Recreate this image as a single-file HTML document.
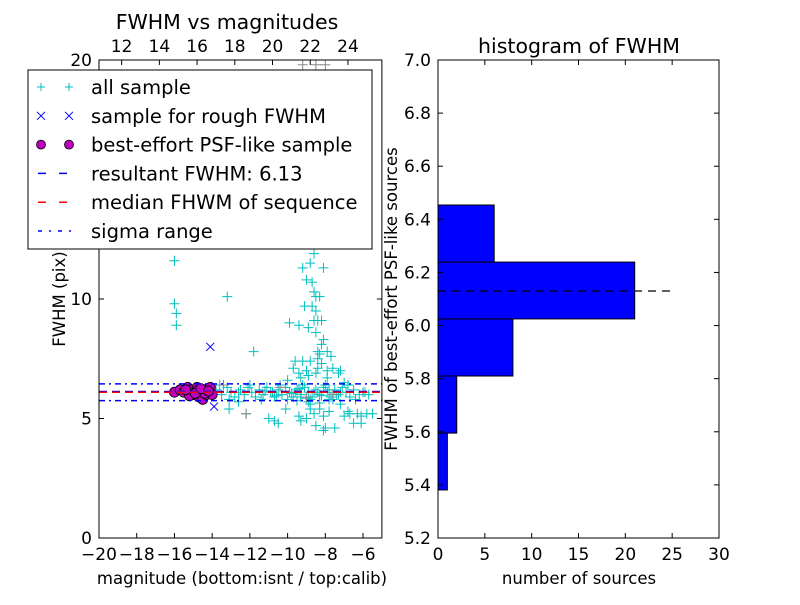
<!DOCTYPE html>
<html><head><meta charset="utf-8"><style>
body{margin:0;background:#fff;}
svg text{font-family:"DejaVu Sans","Liberation Sans",sans-serif;fill:#000;}
</style></head><body>
<svg id="fig" width="800" height="600" viewBox="0 0 800 600" xmlns="http://www.w3.org/2000/svg">
<rect width="800" height="600" fill="#fff"/>
<g id="left"></g><g id="right"></g>
</svg>
<script>
// ---- data: left scatter ----
const cyanMag=[-8.6,-8.8,-9.2,-8.1,-9.0,-8.7,-8.6,-8.5,-8.3,-9.1,-8.7,-8.5,-8.4,-8.6,-8.2,-9.4,-8.9,-8.5,-8.1,-8.2,-8.4,-8.3,-7.9,-8.4,-7.7,-8.8,-8.2,-9.6,-9.2,-9.7,-9.0,-8.4,-7.6,-7.2,-7.9,-9.4,-8.9,-8.5,-7.9,-7.3,-9.3,-10.0,-7.0,
-9.3,-8.8,-8.3,-7.8,-7.2,-8.6,-8.1,-9.4,-9.0,-7.8,-7.0,-8.8,-6.7,-6.3,-6.1,-5.8,-5.5,-6.1,-6.5,-8.0,-8.1,-10.7,-10.5,-11.0,-9.3,-10.1,-6.8,-8.5,-7.5,
-16.0,-16.0,-15.9,-15.9,-13.2,-11.8,-9.9,-12.6,-13.1,-12.2,
-13.8,-13.5,-13.2,-13.0,-12.8,-12.5,-12.3,-12.1,-11.9,-11.7,-11.5,-11.3,-11.1,-10.9,-10.7,-10.5,-10.3,-10.1,-9.9,-9.7,-9.5,-9.3,-9.1,-8.9,-8.7,-8.5,-8.3,-8.1,-7.9,-7.7,-7.5,-7.3,-7.1,-6.9,-6.7,-6.5,-6.2,-5.9,
-13.6,-13.1,-12.6,-12.0,-11.4,-10.8,-10.4,-10.0,-9.6,-9.2,-8.8,-8.4,-8.0,-7.6,-7.2,-6.8,-6.4,-6.0,-5.7,
-11.2,-10.6,-9.8,-9.4,-9.0,-8.6,-8.2,-7.8,-7.4,-9.5,-8.9,-8.3];
const cyanFwhm=[11.9,11.5,11.3,11.3,10.8,10.7,10.3,10.1,10.1,9.7,9.7,9.5,9.1,9.1,9.1,8.9,8.8,8.6,8.3,8.1,7.8,7.7,7.8,7.5,7.6,7.4,7.3,7.4,7.4,7.1,7.0,7.1,7.1,7.0,7.0,6.9,6.8,6.9,6.7,6.9,6.7,6.6,6.5,
5.9,5.6,5.4,5.8,5.6,5.2,5.1,5.1,5.0,5.3,5.1,5.4,5.2,5.2,5.1,5.2,5.2,4.8,4.8,4.6,4.5,4.9,4.8,5.0,4.9,5.4,5.3,4.7,4.6,
11.6,9.8,9.4,8.9,10.1,7.8,9.0,5.7,5.4,5.2,
6.2,6.0,6.3,6.1,5.9,6.2,6.0,6.3,6.1,5.9,6.2,6.0,6.3,6.1,5.9,6.2,6.0,6.3,6.1,5.9,6.2,6.0,6.3,6.1,5.9,6.2,6.0,6.3,6.1,5.9,6.2,6.0,6.3,6.1,5.9,6.2,6.0,6.1,
6.4,5.8,6.1,6.4,5.8,6.1,6.4,5.8,6.1,6.4,5.8,6.1,6.4,5.8,6.1,6.4,5.8,6.1,6.0,
6.15,5.95,6.05,6.25,5.85,6.1,5.95,6.2,6.0,5.75,5.7,5.65];
const grayMag=[-9.2,-8.5,-8.0,-8.6,-12.2,-10.4,-7.6,-9.0,-13.4];
const grayFwhm=[19.8,19.8,19.8,16.0,5.2,6.3,6.0,5.9,6.4];
const blueMag=[-14.1,-13.9];
const blueFwhm=[8.0,5.5];
const psfMag=[-16.0,-15.7,-15.5,-15.3,-15.1,-15.0,-14.8,-14.7,-14.6,-14.5,-14.4,-14.3,-14.2,-14.1,-14.0,-14.4,-15.2,-14.8,-14.9,-15.4,-14.6,-14.2];
const psfFwhm=[6.1,6.2,6.1,6.3,6.2,6.0,6.3,5.9,6.1,5.8,6.2,6.0,6.1,6.3,6.0,6.05,5.95,6.15,6.05,6.2,6.25,6.15];
const resultFwhm=6.13, medianFwhm=6.1, sigmaLo=5.75, sigmaHi=6.45;
const xTicks=[-20,-18,-16,-14,-12,-10,-8,-6];
const yTicks=[0,5,10,20];
const topTicks=[12,14,16,18,20,22,24];
const topOffset=30.8;
// ---- data: histogram ----
const binEdges=[5.381,5.595,5.81,6.025,6.239,6.454];
const binCounts=[1,2,8,21,6];
const hXTicks=[0,5,10,15,20,25,30];
const hYTicks=[5.2,5.4,5.6,5.8,6.0,6.2,6.4,6.6,6.8,7.0];

const NS="http://www.w3.org/2000/svg";
function mk(parent,tag,attrs,text){const e=document.createElementNS(NS,tag);for(const k in attrs)e.setAttribute(k,attrs[k]);if(text!==undefined)e.textContent=text;parent.appendChild(e);return e;}
const L=document.getElementById('left'),R=document.getElementById('right');
const lx0=99,lx1=381.9,ly0=538,ly1=60;
const sx=v=>lx0+(v+20)/15*(lx1-lx0);
const sy=v=>ly0-v/20*(ly0-ly1);
function fmt(v){return v<0?'\u2212'+Math.abs(v):String(v);}
function hline(val,color,dash,name){const l=mk(L,'line',{x1:lx0,x2:lx1,y1:sy(val),y2:sy(val),stroke:color,'stroke-width':1.5,'stroke-dasharray':dash});

}
const P=5;
cyanMag.forEach((m,i)=>{const x=sx(m),y=sy(cyanFwhm[i]);const p=mk(L,'path',{d:`M${x-P},${y}h${2*P}M${x},${y-P}v${2*P}`,stroke:'#00bfbf','stroke-width':1});

});
grayMag.forEach((m,i)=>{const x=sx(m),y=sy(grayFwhm[i]);const p=mk(L,'path',{d:`M${x-P},${y}h${2*P}M${x},${y-P}v${2*P}`,stroke:'#888','stroke-width':1});

});
psfMag.forEach((m,i)=>{const c=mk(L,'circle',{cx:sx(m),cy:sy(psfFwhm[i]),r:5,fill:'#bf00bf',stroke:'#000','stroke-width':0.8});

});
blueMag.forEach((m,i)=>{const x=sx(m),y=sy(blueFwhm[i]);const p=mk(L,'path',{d:`M${x-4},${y-4}l8,8M${x-4},${y+4}l8,-8`,stroke:'#0000ff','stroke-width':1});

});
hline(sigmaHi,'#0000ff','6 4 2 4','sigma-high-line');
hline(sigmaLo,'#0000ff','6 4 2 4','sigma-low-line');
hline(resultFwhm,'#0000ff','8 5','resultant-fwhm-line');
hline(medianFwhm,'#ff0000','8 5','median-fwhm-line');
{const f=mk(L,'rect',{x:lx0,y:ly1,width:lx1-lx0,height:ly0-ly1,fill:'none',stroke:'#000','stroke-width':1});

}
xTicks.forEach(t=>{const x=sx(t);mk(L,'line',{x1:x,x2:x,y1:ly0,y2:ly0-5,stroke:'#000'});
const tx=mk(L,'text',{x:x,y:ly0+22,'text-anchor':'middle','font-size':17},fmt(t));

});
topTicks.forEach(t=>{const x=sx(t-topOffset);mk(L,'line',{x1:x,x2:x,y1:ly1,y2:ly1+5,stroke:'#000'});
const tx=mk(L,'text',{x:x,y:ly1-8,'text-anchor':'middle','font-size':17},t);

});
yTicks.forEach(t=>{const y=sy(t);mk(L,'line',{x1:lx0,x2:lx0+5,y1:y,y2:y,stroke:'#000'});mk(L,'line',{x1:lx1,x2:lx1-5,y1:y,y2:y,stroke:'#000'});
const tx=mk(L,'text',{x:lx0-7,y:y+6,'text-anchor':'end','font-size':17},t);

});
const lg=mk(L,'g',{});


mk(lg,'rect',{x:28,y:70,width:344,height:179,fill:'#fff',stroke:'#000','stroke-width':1});
const entries=[['all sample','plus'],['sample for rough FWHM','x'],['best-effort PSF-like sample','dot'],['resultant FWHM: 6.13','dashb'],['median FHWM of sequence','dashr'],['sigma range','dashdot']];
entries.forEach((e,i)=>{const y=87+i*28.8;const g=mk(lg,'g',{});


[41,69].forEach(x=>{
if(e[1]=='plus')mk(g,'path',{d:`M${x-4},${y}h8M${x},${y-4}v8`,stroke:'#00bfbf'});
if(e[1]=='x')mk(g,'path',{d:`M${x-4},${y-4}l8,8M${x-4},${y+4}l8,-8`,stroke:'#0000ff'});
if(e[1]=='dot')mk(g,'circle',{cx:x,cy:y,r:4.5,fill:'#bf00bf',stroke:'#000','stroke-width':0.8});});
if(e[1]=='dashb')mk(g,'line',{x1:38,x2:75,y1:y,y2:y,stroke:'#0000ff','stroke-width':1.5,'stroke-dasharray':'8 13'});
if(e[1]=='dashr')mk(g,'line',{x1:38,x2:75,y1:y,y2:y,stroke:'#ff0000','stroke-width':1.5,'stroke-dasharray':'8 13'});
if(e[1]=='dashdot')mk(g,'line',{x1:38,x2:75,y1:y,y2:y,stroke:'#0000ff','stroke-width':1.5,'stroke-dasharray':'4 7 2 7'});
mk(g,'text',{x:91,y:y+7,'font-size':19.5},e[0]);});
{const t=mk(L,'text',{x:227,y:29,'text-anchor':'middle','font-size':20.5},'FWHM vs magnitudes');


const a=mk(L,'text',{x:242,y:584,'text-anchor':'middle','font-size':16.5},'magnitude (bottom:isnt / top:calib)');


const b=mk(L,'text',{x:0,y:0,'text-anchor':'middle','font-size':16.5,transform:'translate(65,299) rotate(-90)'},'FWHM (pix)');

}
const rx0=438,rx1=719,ry0=538,ry1=60;
const hx=v=>rx0+v/30*(rx1-rx0);
const hy=v=>ry0-(v-5.2)/1.8*(ry0-ry1);
binCounts.forEach((c,i)=>{const yTop=hy(binEdges[i+1]),yBot=hy(binEdges[i]);
const r=mk(R,'rect',{x:hx(0),y:yTop,width:hx(c)-hx(0),height:yBot-yTop,fill:'#0000ff',stroke:'#000','stroke-width':1});

});
{const l=mk(R,'line',{x1:hx(0),x2:hx(25.3),y1:hy(resultFwhm),y2:hy(resultFwhm),stroke:'#000','stroke-width':1.2,'stroke-dasharray':'8 6'});

}
{const f=mk(R,'rect',{x:rx0,y:ry1,width:rx1-rx0,height:ry0-ry1,fill:'none',stroke:'#000'});

}
hXTicks.forEach(t=>{const x=hx(t);mk(R,'line',{x1:x,x2:x,y1:ry0,y2:ry0-5,stroke:'#000'});mk(R,'line',{x1:x,x2:x,y1:ry1,y2:ry1+5,stroke:'#000'});
const tx=mk(R,'text',{x:x,y:ry0+22,'text-anchor':'middle','font-size':17},t);

});
hYTicks.forEach(t=>{const y=hy(t);mk(R,'line',{x1:rx0,x2:rx0+5,y1:y,y2:y,stroke:'#000'});mk(R,'line',{x1:rx1,x2:rx1-5,y1:y,y2:y,stroke:'#000'});
const tx=mk(R,'text',{x:rx0-7,y:y+6,'text-anchor':'end','font-size':17},t.toFixed(1));

});
{const t=mk(R,'text',{x:579,y:53,'text-anchor':'middle','font-size':20.5},'histogram of FWHM');


const a=mk(R,'text',{x:579,y:584,'text-anchor':'middle','font-size':16.5},'number of sources');


const b=mk(R,'text',{x:0,y:0,'text-anchor':'middle','font-size':16.5,transform:'translate(397,299) rotate(-90)'},'FWHM of best-effort PSF-like sources');

}
</script>
</body></html>
